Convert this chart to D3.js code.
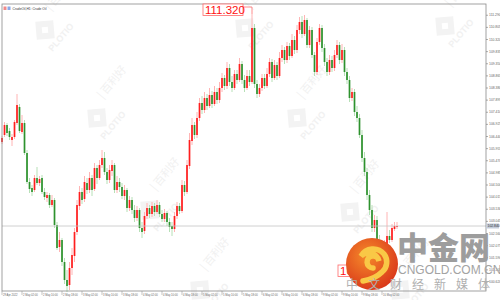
<!DOCTYPE html>
<html><head><meta charset="utf-8">
<script src="https://cdn.jsdelivr.net/npm/d3@7/dist/d3.min.js"></script>
<style>html,body{margin:0;padding:0;background:#fff;overflow:hidden}svg{display:block}</style>
</head><body>
<svg id="c" width="500" height="300"></svg>
<script>
const title = "CrudeOil,H1: Crude Oil";
const opens = [106.20,106.48,106.88,106.64,106.28,106.40,106.96,107.60,106.60,106.96,
105.76,104.60,104.36,104.28,104.76,104.56,104.76,104.20,103.96,104.08,
103.68,103.88,102.88,102.00,102.28,101.40,100.68,100.48,101.16,101.64,
102.60,103.64,104.20,103.92,104.56,104.28,104.76,104.32,105.16,104.76,
105.28,105.56,105.00,104.68,105.04,105.28,104.28,104.60,104.40,104.04,
104.28,103.56,103.88,103.48,103.16,103.48,102.76,102.64,103.24,103.56,
103.32,103.64,103.40,103.68,103.32,103.12,103.36,103.00,102.84,102.72,
103.24,103.64,103.44,104.48,104.20,105.24,106.24,106.88,106.48,107.16,
107.76,107.48,107.96,107.64,108.08,107.72,108.20,107.88,108.36,108.76,
108.44,109.16,108.60,108.36,108.92,108.68,109.32,108.68,108.36,108.84,
108.60,110.76,108.52,108.12,108.36,108.76,108.44,108.92,109.40,108.76,
109.28,108.84,109.56,109.88,109.48,110.04,109.64,110.28,109.88,110.68,
111.00,110.52,111.08,110.08,110.68,109.68,109.00,110.20,110.76,109.96,
109.40,109.00,109.48,109.16,109.68,110.08,109.48,109.88,109.00,108.68,
107.96,108.20,107.40,107.16,106.48,105.56,105.00,104.08,103.48,102.76,
103.08,102.28,101.80,101.40,102.08,102.44,102.28,102.72,102.80];
const highs = [106.44,107.00,106.96,106.76,106.52,107.08,108.12,107.72,107.28,107.08,
105.88,104.76,104.48,104.88,105.20,104.84,104.88,104.36,104.20,104.16,
104.08,103.96,103.00,102.60,102.36,101.56,101.08,101.40,101.96,102.76,
103.88,104.44,104.36,104.84,104.76,105.00,104.88,105.36,105.28,105.48,
105.88,105.80,105.16,105.28,105.48,105.36,104.84,104.76,104.56,104.48,
104.36,104.04,104.00,103.68,103.64,103.56,103.00,103.40,103.76,103.68,
103.80,103.76,103.88,103.80,103.48,103.52,103.44,103.16,103.00,103.40,
103.80,103.76,104.68,104.64,105.48,106.56,107.16,107.00,107.40,107.96,
108.04,108.20,108.12,108.36,108.24,108.44,108.36,108.60,108.96,108.88,
109.40,109.32,108.84,109.08,109.08,109.56,109.44,108.88,109.08,109.08,
111.32,110.92,108.68,108.52,108.92,108.92,109.16,109.56,109.52,109.48,
109.40,109.80,110.08,110.00,110.20,110.16,110.52,110.44,110.88,111.20,
111.24,111.28,111.16,110.84,110.80,109.80,110.36,110.92,110.88,110.12,
109.56,109.68,109.64,109.88,110.28,110.20,110.12,110.00,109.16,108.84,
108.36,108.32,107.64,107.32,106.68,105.80,105.16,104.28,103.68,103.28,
103.24,102.48,101.96,102.28,103.40,102.68,102.92,103.00,103.00];
const lows = [106.12,106.40,106.44,106.28,106.04,106.32,106.88,106.56,106.52,105.68,
104.52,104.16,104.04,104.20,104.48,104.44,104.12,103.88,103.80,103.56,
103.60,102.76,101.88,101.80,101.24,100.52,100.20,100.28,100.88,101.40,
102.48,103.48,103.72,103.80,104.12,104.16,104.04,104.24,104.52,104.68,
105.16,104.88,104.52,104.56,104.84,104.16,104.16,104.20,103.92,103.88,
103.40,103.44,103.32,103.00,103.04,102.60,102.36,102.52,103.12,103.16,
103.20,103.24,103.32,103.20,103.00,103.00,102.84,102.60,102.44,102.60,
103.12,103.32,103.36,104.04,104.12,105.12,106.08,106.32,106.36,107.04,
107.32,107.36,107.48,107.56,107.56,107.64,107.72,107.76,108.20,108.28,
108.32,108.44,108.20,108.28,108.52,108.60,108.52,108.20,108.28,108.44,
108.52,108.36,107.96,108.00,108.24,108.32,108.36,108.80,108.60,108.68,
108.68,108.76,109.40,109.32,109.36,109.48,109.56,109.72,109.76,110.52,
110.36,110.44,109.96,109.96,109.56,108.84,108.88,110.08,109.80,109.24,
108.84,108.88,109.00,109.04,109.56,109.32,109.36,108.84,108.52,107.80,
107.84,107.24,107.00,106.36,105.40,104.84,103.88,103.28,102.60,102.60,
102.08,101.56,101.24,101.28,101.96,102.16,102.20,102.64,102.72];
const closes = [106.36,106.88,106.56,106.40,106.40,107.00,107.68,106.64,106.96,105.76,
104.60,104.32,104.20,104.76,104.56,104.72,104.20,104.00,104.08,103.68,
103.88,102.88,101.96,102.28,101.40,100.68,100.44,101.16,101.68,102.60,
103.68,104.20,103.88,104.60,104.28,104.76,104.28,105.16,104.76,105.28,
105.56,105.00,104.68,105.08,105.28,104.28,104.60,104.40,104.04,104.28,
103.56,103.88,103.48,103.16,103.48,102.76,102.60,103.24,103.56,103.32,
103.64,103.40,103.68,103.32,103.12,103.36,103.00,102.80,102.72,103.24,
103.64,103.44,104.48,104.20,105.28,106.28,106.88,106.48,107.16,107.76,
107.48,107.96,107.64,108.08,107.72,108.20,107.88,108.36,108.76,108.44,
109.16,108.60,108.36,108.92,108.68,109.32,108.68,108.36,108.84,108.60,
110.76,108.52,108.12,108.36,108.76,108.44,108.92,109.40,108.76,109.28,
108.84,109.56,109.88,109.48,110.04,109.64,110.28,109.88,110.68,111.00,
110.52,111.08,110.08,110.68,109.68,109.00,110.20,110.76,109.96,109.40,
109.00,109.48,109.16,109.68,110.08,109.48,109.88,109.00,108.68,107.96,
108.20,107.40,107.16,106.48,105.56,105.00,104.08,103.48,102.76,103.08,
102.28,101.80,101.40,102.08,102.44,102.28,102.76,102.84,102.84];
const yTickLabels = ["111.290","110.805","110.320","109.835","109.350","108.865","108.380","107.895",
"107.410","106.925","106.440","105.955","105.470","104.985","104.500","104.015","103.530","103.045",
"102.560","102.075","101.590","101.105","100.620"];
const xTickLabels = ["29 Apr 2022","2 May 02:00","2 May 10:00","2 May 18:00","3 May 02:00","3 May 10:00",
"3 May 18:00","4 May 02:00","4 May 10:00","4 May 18:00","5 May 02:00","5 May 10:00","5 May 18:00",
"6 May 02:00","6 May 10:00","6 May 18:00","9 May 02:00","9 May 10:00","9 May 18:00","10 May 02:00"];
const xTickBars = [0,8,16,24,32,40,48,56,64,72,80,88,96,104,112,120,128,136,144,152];
const highMark = {bar:100, value:"111.320"};
const lowMark = {bar:152, value:"101.240"};
const lastPrice = "102.840";

const bars = opens.map((o,i)=>({i,o,h:highs[i],l:lows[i],c:closes[i]}));
const svg = d3.select("#c");
const L=2, R=486, T=4, B=291;
const x = d3.scaleLinear().domain([0,193.6]).range([L+0.01, R]);
const y = d3.scaleLinear().domain([111.72,100.24]).range([T,B]);
const font = "'Liberation Sans', Arial, sans-serif";

svg.append("rect").attr("x",0).attr("y",0).attr("width",500).attr("height",300).attr("fill","#fff");

// faint watermark tiles
const wm = svg.append("g");
[[45,30],[245,28],[445,26],[97,118],[297,118],[150,210],[350,212],[200,290],[400,290]].forEach(([cx,cy])=>{
  const g = wm.append("g").attr("transform",`translate(${cx},${cy}) rotate(-50)`);
  g.append("rect").attr("x",-9).attr("y",-9).attr("width",18).attr("height",18).attr("transform","rotate(45)").attr("fill","#f3f3f3");
  g.append("rect").attr("x",-3).attr("y",-3).attr("width",6).attr("height",6).attr("transform","rotate(45)").attr("fill","#fff");
  g.append("text").attr("x",-12).attr("y",20).attr("font-size",9).attr("font-weight","bold").attr("fill","#f1f1f1").attr("font-family",font).text("PLOTIO");
  g.append("text").attr("x",18).attr("y",-8).attr("font-size",11).attr("fill","#f1f1f1").attr("font-family","'Noto Sans CJK SC', sans-serif").text("| 百利好");
});

// candles
const cg = svg.append("g");
const upBody="#ff1f1f", upWick="#ffb4b4", dnBody="#2e922e", dnWick="#b7e0b7";
cg.selectAll("line.w").data(bars).join("line")
  .attr("x1",d=>x(d.i)).attr("x2",d=>x(d.i))
  .attr("y1",d=>y(d.h)).attr("y2",d=>y(d.l))
  .attr("stroke",d=>d.c>=d.o?upWick:dnWick).attr("stroke-width",1);
cg.selectAll("rect.b").data(bars).join("rect")
  .attr("x",d=>x(d.i)-0.85).attr("width",1.7)
  .attr("y",d=>y(Math.max(d.o,d.c)))
  .attr("height",d=>Math.max(0.8,Math.abs(y(d.o)-y(d.c))))
  .attr("fill",d=>d.c>=d.o?upBody:dnBody);

// current price line
const lp = +lastPrice;
svg.append("line").attr("x1",L).attr("x2",R).attr("y1",y(lp)).attr("y2",y(lp)).attr("stroke","#c4c4c4").attr("stroke-width",0.8);

// borders
svg.append("rect").attr("x",L).attr("y",T).attr("width",R-L).attr("height",B-T)
  .attr("fill","none").attr("stroke","#8a8a8a").attr("stroke-width",0.8);

// y axis
const yAxis = d3.axisRight(y).tickValues(yTickLabels.map(Number)).tickSize(2).tickPadding(1).tickFormat((d,i)=>yTickLabels[i]);
const ya = svg.append("g").attr("transform",`translate(${R},0)`).call(yAxis);
ya.select(".domain").remove();
ya.selectAll("line").attr("stroke","#777").attr("stroke-width",0.6);
ya.selectAll("text").attr("font-size",3.4).attr("fill","#666").attr("font-family",font);

// last price box
svg.append("rect").attr("x",R).attr("y",y(lp)-2.5).attr("width",13).attr("height",5).attr("fill","#c3ccda");
svg.append("text").attr("x",R+1.5).attr("y",y(lp)+1.2).attr("font-size",3.4).attr("fill","#333").attr("font-family",font).text(lastPrice);

// x axis
const xa = svg.append("g");
xTickBars.forEach((b,k)=>{
  const tx = L + (b/8)*20;
  xa.append("line").attr("x1",tx).attr("x2",tx).attr("y1",B).attr("y2",B+4).attr("stroke","#888").attr("stroke-width",0.5);
  xa.append("text").attr("x",tx+1).attr("y",B+5.2).attr("font-size",2.7).attr("fill","#666").attr("font-family",font).text(xTickLabels[k]);
});

// title
svg.append("rect").attr("x",3.5).attr("y",6.5).attr("width",3).attr("height",3.5).attr("fill","#f08a8a");
svg.append("rect").attr("x",7.5).attr("y",6.5).attr("width",3).attr("height",3.5).attr("fill","#8aa8e8");
svg.append("text").attr("x",12.5).attr("y",9.6).attr("font-size",3.3).attr("fill","#333").attr("font-family",font).text(title);

// high mark
const hb = bars[highMark.bar];
const hx = x(hb.i), hy = y(hb.h);
svg.append("path").attr("d",`M243,7 H${hx} V${hy}`).attr("fill","none").attr("stroke","#ff7070").attr("stroke-width",0.8);
svg.append("rect").attr("x",203).attr("y",4).attr("width",40).attr("height",11.5).attr("fill","#fff").attr("stroke","#ff6a6a").attr("stroke-width",0.8);
svg.append("text").attr("x",205).attr("y",14).attr("font-size",11.5).attr("fill","#ff1010").attr("font-family",font).text(highMark.value);

// low mark
const lb = bars[lowMark.bar];
const lx = x(lb.i), ly = y(lb.l);
svg.append("path").attr("d",`M378,${ly+6} H${lx} V${ly}`).attr("fill","none").attr("stroke","#ff7070").attr("stroke-width",0.8);
svg.append("rect").attr("x",338).attr("y",ly-1).attr("width",40).attr("height",11.5).attr("fill","#fff").attr("stroke","#ff6a6a").attr("stroke-width",0.8);
svg.append("text").attr("x",340).attr("y",ly+9).attr("font-size",11.5).attr("fill","#ff1010").attr("font-family",font).text(lowMark.value);

// logo
const defs = svg.append("defs");
const gr = defs.append("radialGradient").attr("id","lg").attr("cx","40%").attr("cy","35%").attr("r","70%");
gr.append("stop").attr("offset","0%").attr("stop-color","#f58a2a");
gr.append("stop").attr("offset","100%").attr("stop-color","#d9361a");
const cx=372, cy=264, r=26;
svg.append("circle").attr("cx",cx).attr("cy",cy).attr("r",r).attr("fill","url(#lg)");
svg.append("path").attr("d",`M${cx+1},${cy+4} a6,6 0 1,1 6,-7 a11,11 0 0,0 -18,-5 a14,14 0 0,1 23,-2 a13,13 0 0,1 -2,18 q-7,7 -19,9`)
  .attr("fill","none").attr("stroke","#f9c846").attr("stroke-width",5.5).attr("stroke-linecap","round");
svg.append("text").attr("x",397).attr("y",259).attr("font-size",31).attr("font-weight",900).attr("fill","#9d9d9d")
  .attr("font-family","'Noto Sans CJK SC', sans-serif").text("中金网");
svg.append("text").attr("x",398).attr("y",274).attr("font-size",12).attr("fill","#a3a3a3")
  .attr("font-family",font).text("CNGOLD.COM.CN");
svg.append("text").attr("x",346).attr("y",289).attr("font-size",12).attr("letter-spacing",10).attr("fill","#b0b0b0")
  .attr("font-family","'Noto Sans CJK SC', sans-serif").text("中文财经新媒体");
</script>
</body></html>
